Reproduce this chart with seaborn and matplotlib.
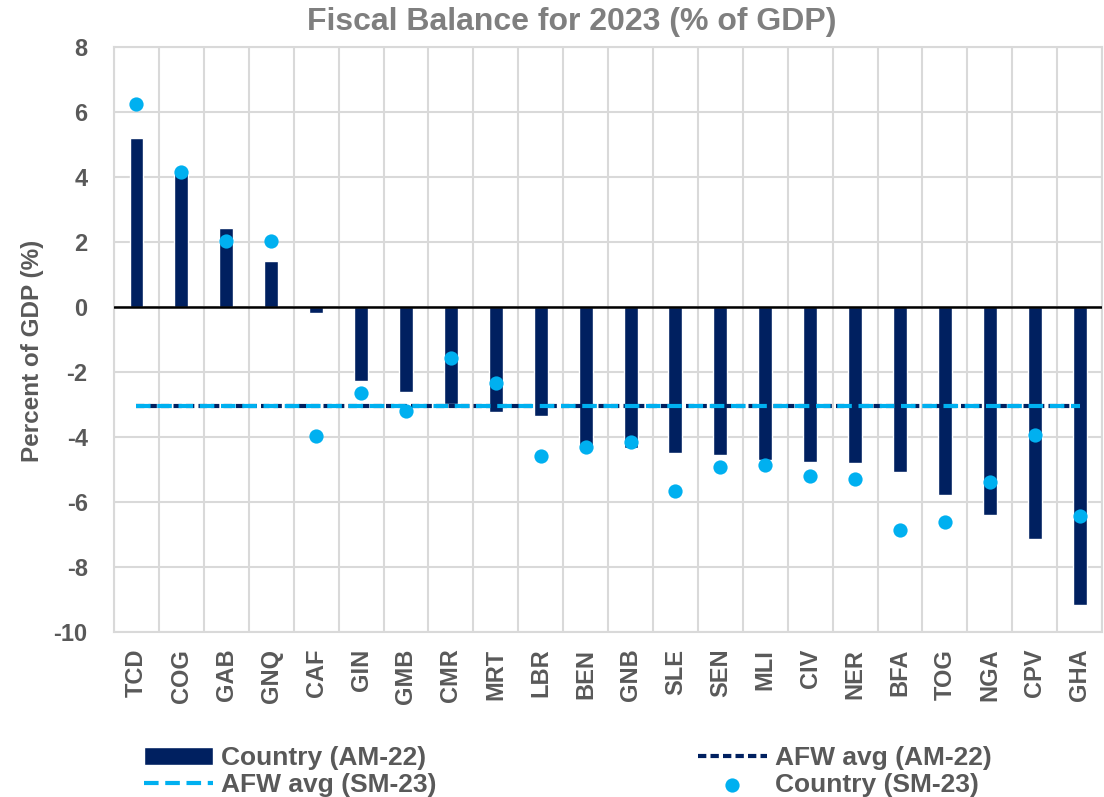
import matplotlib
matplotlib.use("Agg")
import matplotlib.pyplot as plt
import seaborn as sns
import numpy as np
from matplotlib.ticker import MultipleLocator, FixedLocator

countries = ["TCD", "COG", "GAB", "GNQ", "CAF", "GIN", "GMB", "CMR", "MRT", "LBR", "BEN",
             "GNB", "SLE", "SEN", "MLI", "CIV", "NER", "BFA", "TOG", "NGA", "CPV", "GHA"]
country_am22 = [5.22, 4.25, 2.45, 1.41, -0.19, -2.26, -2.6, -2.97, -3.24, -3.34, -4.38,
                -4.34, -4.5, -4.56, -4.71, -4.77, -4.8, -5.07, -5.77, -6.41, -7.15, -9.16]
country_sm23 = [6.26, 4.17, 2.05, 2.04, -3.97, -2.65, -3.19, -1.58, -2.33, -4.57, -4.31,
                -4.16, -5.66, -4.93, -4.85, -5.2, -5.28, -6.85, -6.61, -5.39, -3.92, -6.42]
afw_avg_am22 = -3.05
afw_avg_sm23 = -3.05

navy = "#002060"
light = "#00B0F0"
grid_c = "#D9D9D9"
text_c = "#595959"

sns.set_theme(style="white")
plt.rcParams["font.family"] = ["Liberation Sans", "DejaVu Sans"]
plt.rcParams["axes.unicode_minus"] = False

fig = plt.figure(figsize=(11.04, 7.97), dpi=100)
ax = fig.add_axes([0.1033, 0.207, 0.895, 0.7337])

sns.barplot(x=countries, y=country_am22, color=navy, width=0.31, saturation=1,
            ax=ax, label="Country (AM-22)", zorder=3)
sns.lineplot(x=countries, y=[afw_avg_am22] * len(countries), sort=False, color=navy,
             linewidth=3.0, dashes=False, ax=ax, label="AFW avg (AM-22)", zorder=4)
ax.lines[-1].set_dashes([2.0, 1.0])
sns.lineplot(x=countries, y=[afw_avg_sm23] * len(countries), sort=False, color=light,
             linewidth=3.0, dashes=False, ax=ax, label="AFW avg (SM-23)", zorder=5)
ax.lines[-1].set_dashes([3.5, 1.6])
sns.scatterplot(x=countries, y=country_sm23, color=light, s=105, linewidth=0,
                ax=ax, label="Country (SM-23)", zorder=6)

ax.set_xlim(-0.5, len(countries) - 0.5)
ax.set_ylim(-10, 8)
ax.yaxis.set_major_locator(MultipleLocator(2))
ax.xaxis.set_minor_locator(FixedLocator(np.arange(-0.5, len(countries), 1.0)))
ax.grid(False)
ax.grid(axis="y", which="major", color=grid_c, linewidth=1.5, zorder=0)
ax.grid(axis="x", which="minor", color=grid_c, linewidth=1.5, zorder=0)
ax.set_axisbelow(True)
ax.axhline(0, color="black", linewidth=1.8, zorder=3.5)
for s in ax.spines.values():
    s.set_color(grid_c)
    s.set_linewidth(1.5)

ax.tick_params(axis="both", which="both", length=0)
ax.tick_params(axis="x", which="major", pad=12, rotation=90)
for lab in ax.get_xticklabels():
    lab.set_fontsize(17)
    lab.set_fontweight("bold")
    lab.set_color(text_c)
for lab in ax.get_yticklabels():
    lab.set_fontsize(17)
    lab.set_fontweight("bold")
    lab.set_color(text_c)
ax.tick_params(axis="y", pad=19)

ax.set_xlabel("")
ax.set_ylabel("Percent of GDP (%)", fontsize=17.5, fontweight="bold", color=text_c)
ax.yaxis.set_label_coords(-0.071, 0.48)
fig.text(0.518, 0.972, "Fiscal Balance for 2023 (% of GDP)", ha="center", va="center",
         fontsize=23, fontweight="bold", color="#7F7F7F")

handles, labels = ax.get_legend_handles_labels()
order = {l: h for h, l in zip(handles, labels)}
lab_order = ["Country (AM-22)", "AFW avg (SM-23)", "AFW avg (AM-22)", "Country (SM-23)"]
ax.get_legend().remove()
leg = fig.legend([order[l] for l in lab_order], lab_order, ncol=2, loc="lower left",
                 bbox_to_anchor=(144 / 1104, 0.0), borderpad=0, borderaxespad=0,
                 frameon=False, handlelength=2.62, handletextpad=0.3, labelspacing=0.1,
                 columnspacing=9.9,
                 prop={"weight": "bold", "size": 19})
for t in leg.get_texts():
    t.set_color(text_c)

fig.savefig("out.png", dpi=100)
